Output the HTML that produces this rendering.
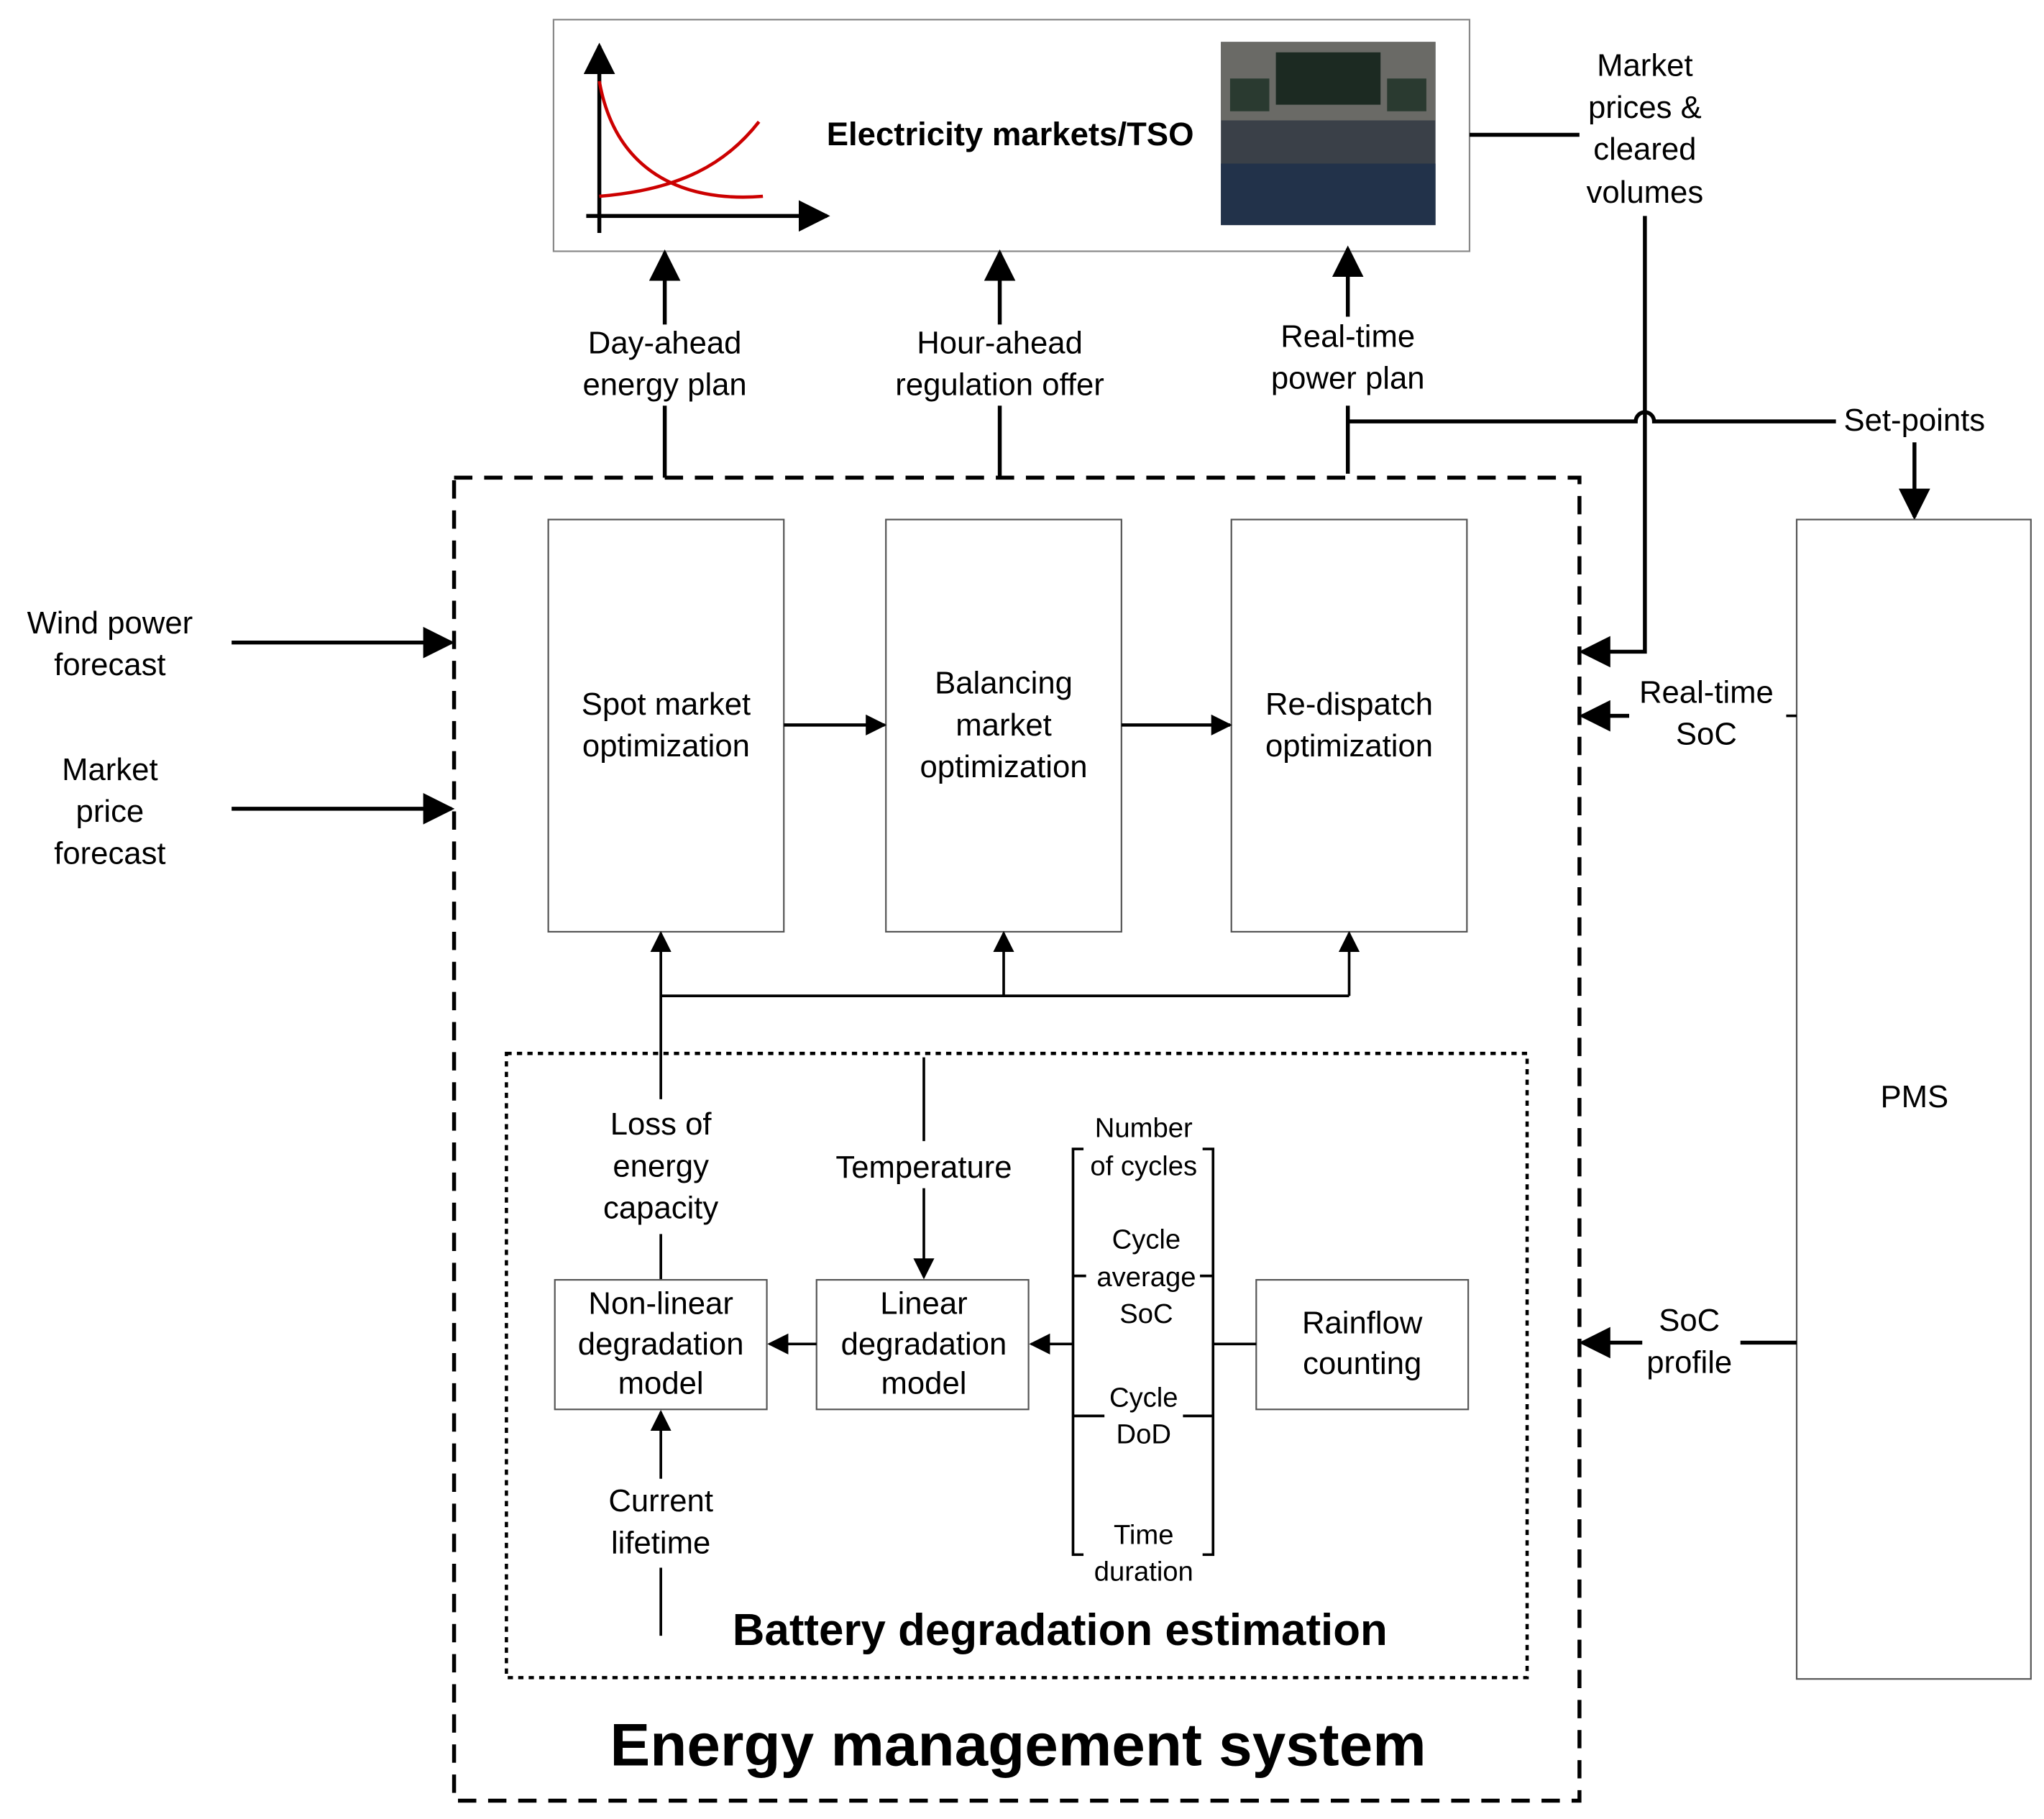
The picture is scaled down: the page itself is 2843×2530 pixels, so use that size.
<!DOCTYPE html>
<html><head><meta charset="utf-8"><style>
html,body{margin:0;padding:0;background:#fff}
svg{display:block}
text{font-family:"Liberation Sans",sans-serif;fill:#000}
</style></head><body>
<svg width="2843" height="2530" viewBox="0 0 1562 1390" xmlns="http://www.w3.org/2000/svg">
<defs>
<marker id="A" viewBox="0 0 10 10" refX="9" refY="5" markerWidth="24" markerHeight="24" orient="auto" markerUnits="userSpaceOnUse"><path d="M0,0 L10,5 L0,10 z" fill="#000"/></marker>
<marker id="s" viewBox="0 0 10 10" refX="9" refY="5" markerWidth="16" markerHeight="16" orient="auto" markerUnits="userSpaceOnUse"><path d="M0,0 L10,5 L0,10 z" fill="#000"/></marker>
</defs>
<g fill="none" stroke="#000">
<rect x="423" y="15" width="700" height="177" stroke="#888" stroke-width="1.2"/>
<line x1="458" y1="178" x2="458" y2="35" stroke-width="3" marker-end="url(#A)"/>
<line x1="448" y1="165" x2="632" y2="165" stroke-width="3" marker-end="url(#A)"/>
<path d="M458,62 C470,130 520,155 583,150" stroke="#c00" stroke-width="2.5"/>
<path d="M458,150 C520,145 555,125 580,93" stroke="#c00" stroke-width="2.5"/>
<line x1="1123" y1="103" x2="1207" y2="103" stroke-width="3"/>
<path d="M1257,165 V498 H1209" stroke-width="3" marker-end="url(#A)"/>
<line x1="508" y1="365" x2="508" y2="310" stroke-width="3"/>
<line x1="508" y1="248" x2="508" y2="193" stroke-width="3" marker-end="url(#A)"/>
<line x1="764" y1="365" x2="764" y2="310" stroke-width="3"/>
<line x1="764" y1="248" x2="764" y2="193" stroke-width="3" marker-end="url(#A)"/>
<line x1="1030" y1="362" x2="1030" y2="310" stroke-width="3"/>
<line x1="1030" y1="242" x2="1030" y2="190" stroke-width="3" marker-end="url(#A)"/>
<path d="M1030,322 H1250 A7,7 0 0 1 1264,322 H1403" stroke-width="3"/>
<line x1="1463" y1="338" x2="1463" y2="395" stroke-width="3" marker-end="url(#A)"/>
<rect x="347" y="365" width="860" height="1011" stroke-width="3" stroke-dasharray="14,9"/>
<rect x="419" y="397" width="180" height="315" stroke="#555" stroke-width="1.2"/>
<rect x="677" y="397" width="180" height="315" stroke="#555" stroke-width="1.2"/>
<rect x="941" y="397" width="180" height="315" stroke="#555" stroke-width="1.2"/>
<line x1="599" y1="554" x2="676" y2="554" stroke-width="2.5" marker-end="url(#s)"/>
<line x1="857" y1="554" x2="940" y2="554" stroke-width="2.5" marker-end="url(#s)"/>
<line x1="177" y1="491" x2="345" y2="491" stroke-width="3" marker-end="url(#A)"/>
<line x1="177" y1="618" x2="345" y2="618" stroke-width="3" marker-end="url(#A)"/>
<polyline points="505,761 1031,761" stroke-width="2"/>
<line x1="505" y1="840" x2="505" y2="713" stroke-width="2" marker-end="url(#s)"/>
<line x1="767" y1="761" x2="767" y2="713" stroke-width="2" marker-end="url(#s)"/>
<line x1="1031" y1="761" x2="1031" y2="713" stroke-width="2" marker-end="url(#s)"/>
<line x1="505" y1="943" x2="505" y2="978" stroke-width="2"/>
<rect x="387" y="805" width="780" height="477" stroke-width="2.5" stroke-dasharray="4,4"/>
<line x1="706" y1="808" x2="706" y2="872" stroke-width="2"/>
<line x1="706" y1="908" x2="706" y2="976" stroke-width="2" marker-end="url(#s)"/>
<rect x="424" y="978" width="162" height="99" stroke="#555" stroke-width="1.2"/>
<rect x="624" y="978" width="162" height="99" stroke="#555" stroke-width="1.2"/>
<rect x="960" y="978" width="162" height="99" stroke="#555" stroke-width="1.2"/>
<line x1="624" y1="1027" x2="588" y2="1027" stroke-width="2" marker-end="url(#s)"/>
<line x1="820" y1="1027" x2="788" y2="1027" stroke-width="2" marker-end="url(#s)"/>
<line x1="927" y1="1027" x2="960" y2="1027" stroke-width="2"/>
<path d="M828,878 H820 V1188 H828 M919,878 H927 V1188 H919" stroke-width="2"/>
<path d="M820,975 H830 M917,975 H927 M820,1082 H844 M904,1082 H927" stroke-width="2"/>
<line x1="505" y1="1250" x2="505" y2="1198" stroke-width="2"/>
<line x1="505" y1="1130" x2="505" y2="1079" stroke-width="2" marker-end="url(#s)"/>
<rect x="1373" y="397" width="179" height="886" stroke="#555" stroke-width="1.2"/>
<line x1="1373" y1="547" x2="1365" y2="547" stroke-width="2"/>
<line x1="1245" y1="547" x2="1209" y2="547" stroke-width="3" marker-end="url(#A)"/>
<line x1="1373" y1="1026" x2="1330" y2="1026" stroke-width="3"/>
<line x1="1255" y1="1026" x2="1209" y2="1026" stroke-width="3" marker-end="url(#A)"/>
</g>
<rect x="933" y="32" width="164" height="140" fill="#3a4048"/>
<rect x="933" y="32" width="164" height="60" fill="#6a6a66"/>
<rect x="975" y="40" width="80" height="40" fill="#1c2a22"/>
<rect x="940" y="60" width="30" height="25" fill="#2a3a30"/>
<rect x="1060" y="60" width="30" height="25" fill="#2a3a30"/>
<rect x="933" y="125" width="164" height="47" fill="#22324a"/>
<g font-size="24" text-anchor="middle">
<text x="772" y="111" font-weight="bold" font-size="25">Electricity markets/TSO</text>
<text x="1257" y="58">Market</text><text x="1257" y="90">prices &amp;</text><text x="1257" y="122">cleared</text><text x="1257" y="155">volumes</text>
<text x="508" y="270">Day-ahead</text><text x="508" y="302">energy plan</text>
<text x="764" y="270">Hour-ahead</text><text x="764" y="302">regulation offer</text>
<text x="1030" y="265">Real-time</text><text x="1030" y="297">power plan</text>
<text x="1463" y="329">Set-points</text>
<text x="84" y="484">Wind power</text><text x="84" y="516">forecast</text>
<text x="84" y="596">Market</text><text x="84" y="628">price</text><text x="84" y="660">forecast</text>
<text x="509" y="546">Spot market</text><text x="509" y="578">optimization</text>
<text x="767" y="530">Balancing</text><text x="767" y="562">market</text><text x="767" y="594">optimization</text>
<text x="1031" y="546">Re-dispatch</text><text x="1031" y="578">optimization</text>
<text x="505" y="867">Loss of</text><text x="505" y="899">energy</text><text x="505" y="931">capacity</text>
<text x="706" y="900">Temperature</text>
<text x="505" y="1004">Non-linear</text><text x="505" y="1035">degradation</text><text x="505" y="1065">model</text>
<text x="706" y="1004">Linear</text><text x="706" y="1035">degradation</text><text x="706" y="1065">model</text>
<text x="1041" y="1019">Rainflow</text><text x="1041" y="1050">counting</text>
<text x="505" y="1155">Current</text><text x="505" y="1187">lifetime</text>
<text x="1304" y="537">Real-time</text><text x="1304" y="569">SoC</text>
<text x="1291" y="1017">SoC</text><text x="1291" y="1049">profile</text>
<text x="1463" y="846">PMS</text>
</g>
<g font-size="21" text-anchor="middle">
<text x="874" y="869">Number</text><text x="874" y="898">of cycles</text>
<text x="876" y="954">Cycle</text><text x="876" y="983">average</text><text x="876" y="1011">SoC</text>
<text x="874" y="1075">Cycle</text><text x="874" y="1103">DoD</text>
<text x="874" y="1180">Time</text><text x="874" y="1208">duration</text>
</g>
<text x="810" y="1257" font-size="34" font-weight="bold" text-anchor="middle">Battery degradation estimation</text>
<text x="778" y="1349" font-size="46" font-weight="bold" text-anchor="middle">Energy management system</text>
</svg>
</body></html>
